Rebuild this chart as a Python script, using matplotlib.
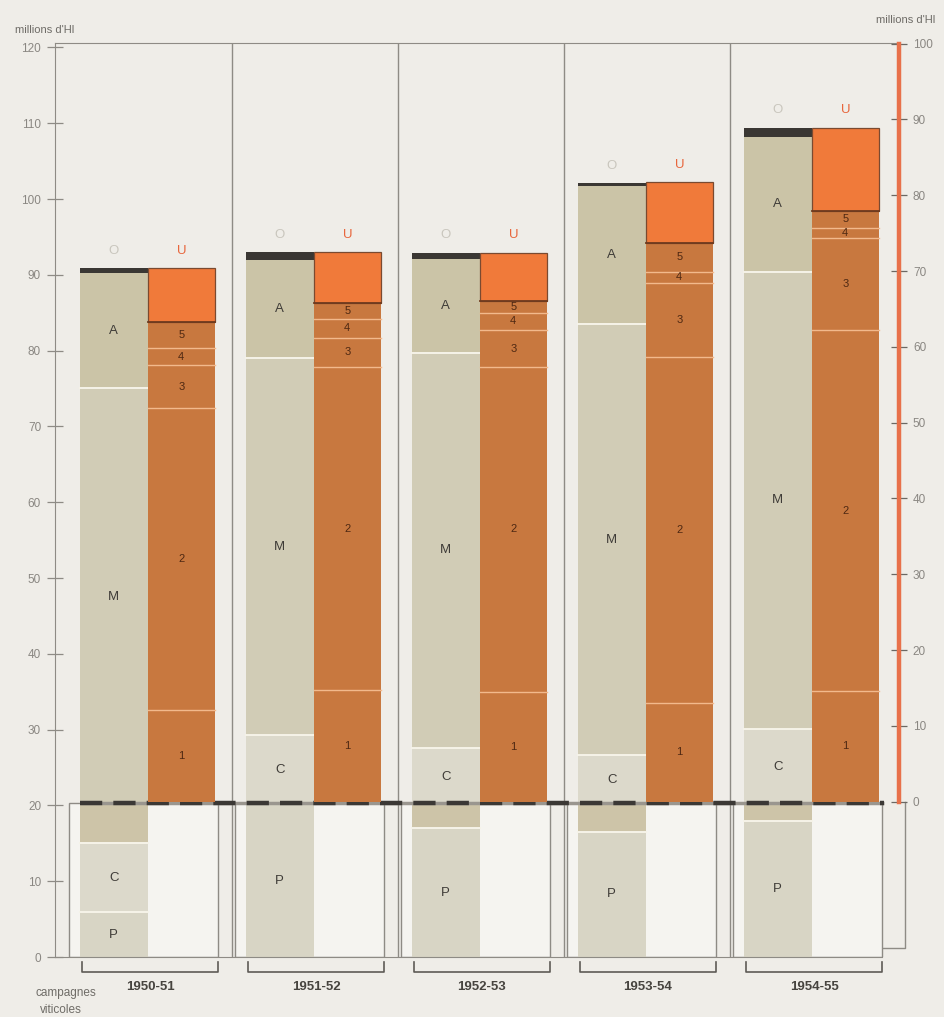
import matplotlib
matplotlib.use('Agg')
import matplotlib.pyplot as plt
import numpy as np

plt.rcParams['font.family'] = ['Liberation Sans', 'DejaVu Sans']

# ---------------- data ----------------
years = ['1950-51', '1951-52', '1952-53', '1953-54', '1954-55']

# "O" bar, left axis (millions d'hl), segment heights stacked from 0
o_P = [5.9, 20.0, 17.0, 16.5, 18.0]
o_X = [5.0, 0.0, 3.0, 3.5, 2.0]      # darker band just under the 20 line
o_C = [9.1, 9.3, 7.6, 6.6, 10.1]
o_M = [55.1, 49.7, 52.1, 56.9, 60.3]
o_A = [15.1, 13.0, 12.4, 18.2, 17.8]
o_T = [0.7, 1.0, 0.8, 0.4, 1.2]      # dark top strip
c_below_band = [True, False, False, False, False]

# "U" bar, right axis (millions d'hl), segment heights stacked from 0
u_1 = [12.1, 14.7, 14.5, 13.0, 14.6]
u_2 = [39.8, 42.6, 42.8, 45.7, 47.6]
u_3 = [5.7, 3.9, 4.9, 9.7, 12.2]
u_4 = [2.2, 2.5, 2.3, 1.5, 1.3]
u_5 = [3.5, 2.1, 1.5, 3.8, 2.2]
u_E = [7.1, 6.7, 6.4, 8.0, 11.0]     # bright orange top

left_ticks = list(range(0, 121, 10))
right_ticks = list(range(0, 101, 10))
axis_label = "millions d'Hl"

# ---------------- style ----------------
BG = '#efede8'
GRID = '#8e8b85'
TXT = '#8a8782'
col_O = {'P': '#d8d5c5', 'C': '#dcd9cb', 'X': '#cdc4a8', 'M': '#d1ccb6',
         'A': '#cbc4a7', 'T': '#3a3733'}
col_U_seg = '#c8783f'
col_U_top = '#f07a3a'
RIGHT_OFFSET = 20.5   # right-axis 0 sits at this left-axis value

W, H = 944, 1017
fig = plt.figure(figsize=(W / 100, H / 100), dpi=100, facecolor=BG)
px_per_unit = 7.58
ytop = 120.6
ax_left_px, ax_right_px = 55, 899
ax_bottom_px = 957
ax_h_px = ytop * px_per_unit
ax = fig.add_axes([ax_left_px / W, (H - ax_bottom_px) / H,
                   (ax_right_px - ax_left_px) / W, ax_h_px / H])
ax.set_facecolor(BG)
pitch = 166.0
xmax = (ax_right_px - ax_left_px) / pitch
ax.set_xlim(0, xmax)
ax.set_ylim(0, ytop)

ax2 = ax.twinx()
ax2.set_ylim(-RIGHT_OFFSET, ytop - RIGHT_OFFSET)

w = 67.5 / pitch
n = len(years)
o_left = np.array([(80 - ax_left_px) / pitch + i for i in range(n)])
u_left = o_left + w
u_right = u_left + w

# separators between panels
for i in range(n - 1):
    xs = (232 - ax_left_px) / pitch + i
    ax.plot([xs, xs], [0, ytop], color=GRID, lw=1.0, zorder=1)

# lower boxes (0-20)
base = 20.3
for i in range(n):
    x0 = o_left[i] - 11 / pitch
    x1 = u_right[i] + 3 / pitch
    ax.add_patch(plt.Rectangle((x0, 0), x1 - x0, base, facecolor='#f5f4f0',
                               edgecolor=GRID, lw=1.0, zorder=1))

# O bars
segs = {'P': o_P, 'X': o_X, 'C': o_C, 'M': o_M, 'A': o_A, 'T': o_T}
for i in range(n):
    order = ['P', 'C', 'X', 'M', 'A', 'T'] if c_below_band[i] else ['P', 'X', 'C', 'M', 'A', 'T']
    b = 0.0
    for k in order:
        h = segs[k][i]
        if h <= 0:
            continue
        ax.bar(o_left[i], h, bottom=b, width=w, align='edge', color=col_O[k],
               edgecolor='none', zorder=2)
        if k in ('P', 'C', 'M', 'A'):
            ax.text(o_left[i] + w / 2, b + h / 2, k, ha='center', va='center',
                    fontsize=9.5, color='#3f3c38', zorder=5)
        top = b + h
        if k in ('P', 'C', 'M') and abs(top - 20) > 0.5:
            ax.plot([o_left[i], o_left[i] + w], [top, top], color='#f6f3e8',
                    lw=1.4, zorder=3)
        b = top
    ax.text(o_left[i] + w / 2, b + 2.3, 'O', ha='center', va='center',
            fontsize=9.5, color='#c9c6bd', zorder=5)

# U bars (right axis)
u_segs = [('1', u_1), ('2', u_2), ('3', u_3), ('4', u_4), ('5', u_5)]
for i in range(n):
    b = 0.0
    for lab, arr in u_segs:
        h = arr[i]
        ax2.bar(u_left[i], h, bottom=b, width=w, align='edge', color=col_U_seg,
                edgecolor='none', zorder=2)
        ax2.text(u_left[i] + w / 2, b + h / 2, lab, ha='center', va='center',
                 fontsize=8, color='#4e2812', zorder=5)
        b += h
        if lab != '5':
            ax2.plot([u_left[i], u_right[i]], [b, b], color='#f2b98c', lw=1.0, zorder=3)
    ax2.bar(u_left[i], u_E[i], bottom=b, width=w, align='edge', color=col_U_top,
            edgecolor='#7a4a30', lw=0.9, zorder=2)
    ax2.plot([u_left[i], u_right[i]], [b, b], color='#6e3a1e', lw=1.3, zorder=3)
    top = b + u_E[i]
    ax2.text(u_left[i] + w / 2, top + 2.3, 'U', ha='center', va='center',
             fontsize=9.5, color='#e8663c', zorder=5)

# dashed 20 line
ax.plot([o_left[0], u_right[-1] + 5 / pitch], [base, base], color='#9a968f',
        lw=2.5, zorder=4, solid_capstyle='butt')
ax.plot([o_left[0], u_right[-1] + 5 / pitch], [base, base], color='#3b3835',
        lw=3.2, zorder=4, linestyle=(0, (5, 2.5)))

# small box at lower right
xb0 = (883 - ax_left_px) / pitch
xb1 = (905 - ax_left_px) / pitch
yb = (957 - 948) / px_per_unit
ax.plot([xb0, xb1, xb1], [yb, yb, RIGHT_OFFSET], color=GRID, lw=1.0,
        clip_on=False, zorder=1)

# spines / ticks
ax.spines['right'].set_visible(False)
ax.spines['left'].set_color(GRID)
ax.spines['top'].set_color(GRID)
ax.spines['bottom'].set_color(GRID)
ax.spines['bottom'].set_bounds(0, u_right[-1] + 3 / pitch)
ax.set_xticks([])
ax.set_yticks(left_ticks)
ax.set_yticklabels([str(t) for t in left_ticks])
ax.tick_params(axis='y', direction='inout', length=12, width=0.9, color=GRID,
               labelcolor=TXT, labelsize=8.5, pad=4)

for s in ['left', 'top', 'bottom']:
    ax2.spines[s].set_visible(False)
ax2.spines['right'].set_color('#e8714a')
ax2.spines['right'].set_linewidth(3.2)
ax2.spines['right'].set_bounds(0, 100)
ax2.set_yticks(right_ticks)
ax2.set_yticklabels([str(t) for t in right_ticks])
ax2.tick_params(axis='y', direction='inout', length=12, width=0.9, color='#6b6863',
                labelcolor=TXT, labelsize=8.5, pad=4)

# brackets and year labels
yb_top = (957 - 962) / px_per_unit
yb_bot = (957 - 972) / px_per_unit
for i in range(n):
    x0 = o_left[i] + 2 / pitch
    x1 = u_right[i] + 3 / pitch
    ax.plot([x0, x0, x1, x1], [yb_top, yb_bot, yb_bot, yb_top], color='#5e5b56',
            lw=1.2, clip_on=False)
    ax.text((x0 + x1) / 2, (957 - 987) / px_per_unit, years[i], ha='center',
            va='center', fontsize=9.5, fontweight='bold', color='#47443f',
            clip_on=False)

fig.text(35 / W, 1 - 993 / H, 'campagnes', ha='left', va='center', fontsize=8.5,
         color='#6f6c67')
fig.text(40 / W, 1 - 1010 / H, 'viticoles', ha='left', va='center', fontsize=8.5,
         color='#6f6c67')
fig.text(15 / W, 1 - 30 / H, axis_label, ha='left', va='center', fontsize=8,
         color='#6f6c67')
fig.text(935 / W, 1 - 20 / H, axis_label, ha='right', va='center', fontsize=8,
         color='#6f6c67')

fig.savefig('out.png', dpi=100, facecolor=BG)
